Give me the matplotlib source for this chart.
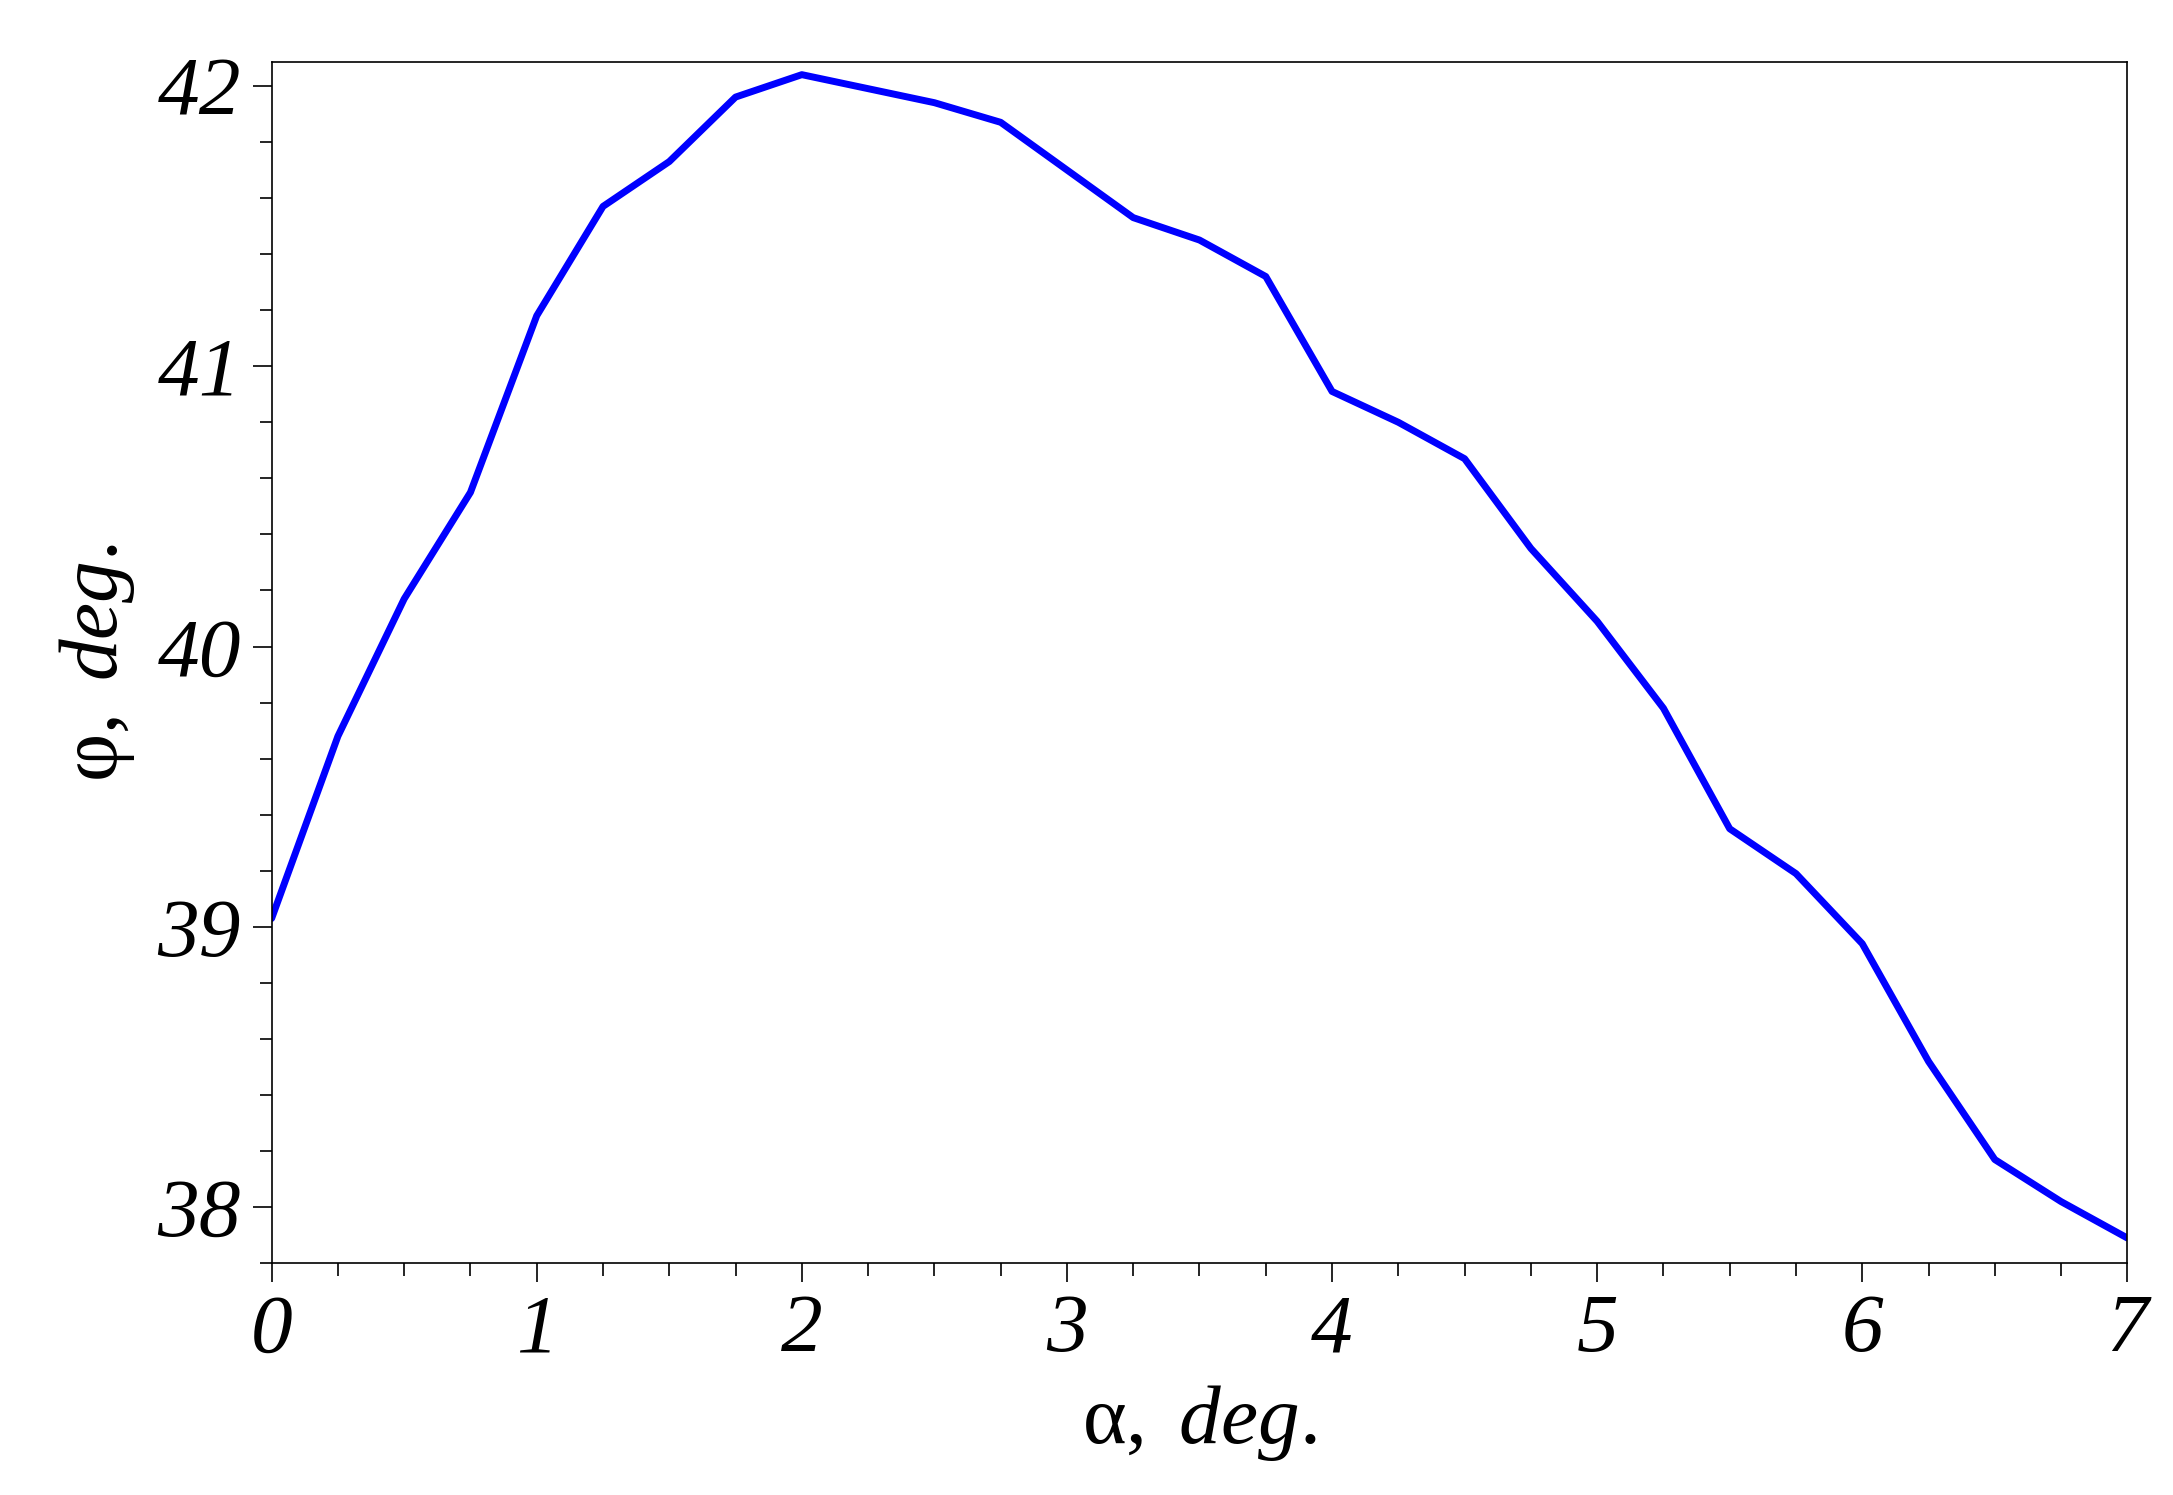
import matplotlib
matplotlib.use("Agg")
import matplotlib.pyplot as plt
from matplotlib.ticker import MultipleLocator

alpha = [0, 0.25, 0.5, 0.75, 1.0, 1.25, 1.5, 1.75, 2.0, 2.25, 2.5, 2.75, 3.0, 3.25, 3.5,
         3.75, 4.0, 4.25, 4.5, 4.75, 5.0, 5.25, 5.5, 5.75, 6.0, 6.25, 6.5, 6.75, 7.0]
phi = [39.03, 39.68, 40.17, 40.55, 41.18, 41.57, 41.73, 41.96, 42.04, 41.99, 41.94, 41.87,
       41.70, 41.53, 41.45, 41.32, 40.91, 40.80, 40.67, 40.35, 40.09, 39.78, 39.35, 39.19,
       38.94, 38.52, 38.17, 38.02, 37.89]
xticks = [0, 1, 2, 3, 4, 5, 6, 7]
yticks = [38, 39, 40, 41, 42]

plt.rcParams['font.family'] = ['Liberation Serif', 'DejaVu Serif']
plt.rcParams['mathtext.fontset'] = 'custom'
plt.rcParams['mathtext.rm'] = 'Liberation Serif'
plt.rcParams['mathtext.it'] = 'Liberation Serif:italic'

fig = plt.figure(figsize=(21.73, 14.95), dpi=100)
ax = fig.add_axes([0.125, 0.155, 0.854, 0.8035])
ax.plot(alpha, phi, color='#0000ff', lw=5, solid_capstyle='round')
ax.set_xlim(0, 7)
ax.set_ylim(37.8, 42.085)
ax.set_xticks(xticks)
ax.set_yticks(yticks)
ax.xaxis.set_minor_locator(MultipleLocator(0.25))
ax.yaxis.set_minor_locator(MultipleLocator(0.2))
ax.tick_params(which='major', direction='out', length=14, width=1.2, labelsize=60, pad=8)
ax.tick_params(which='minor', direction='out', length=9, width=1.2)
for lab in ax.get_xticklabels() + ax.get_yticklabels():
    lab.set_fontstyle('italic')
for s in ax.spines.values():
    s.set_linewidth(1.2)
ax.set_xlabel(r'$\mathrm{α},\ deg.$', fontsize=60, labelpad=10)
ax.set_ylabel(r'$\mathrm{φ},\ deg.$', fontsize=60, labelpad=15)
fig.savefig('out.png', dpi=100)
